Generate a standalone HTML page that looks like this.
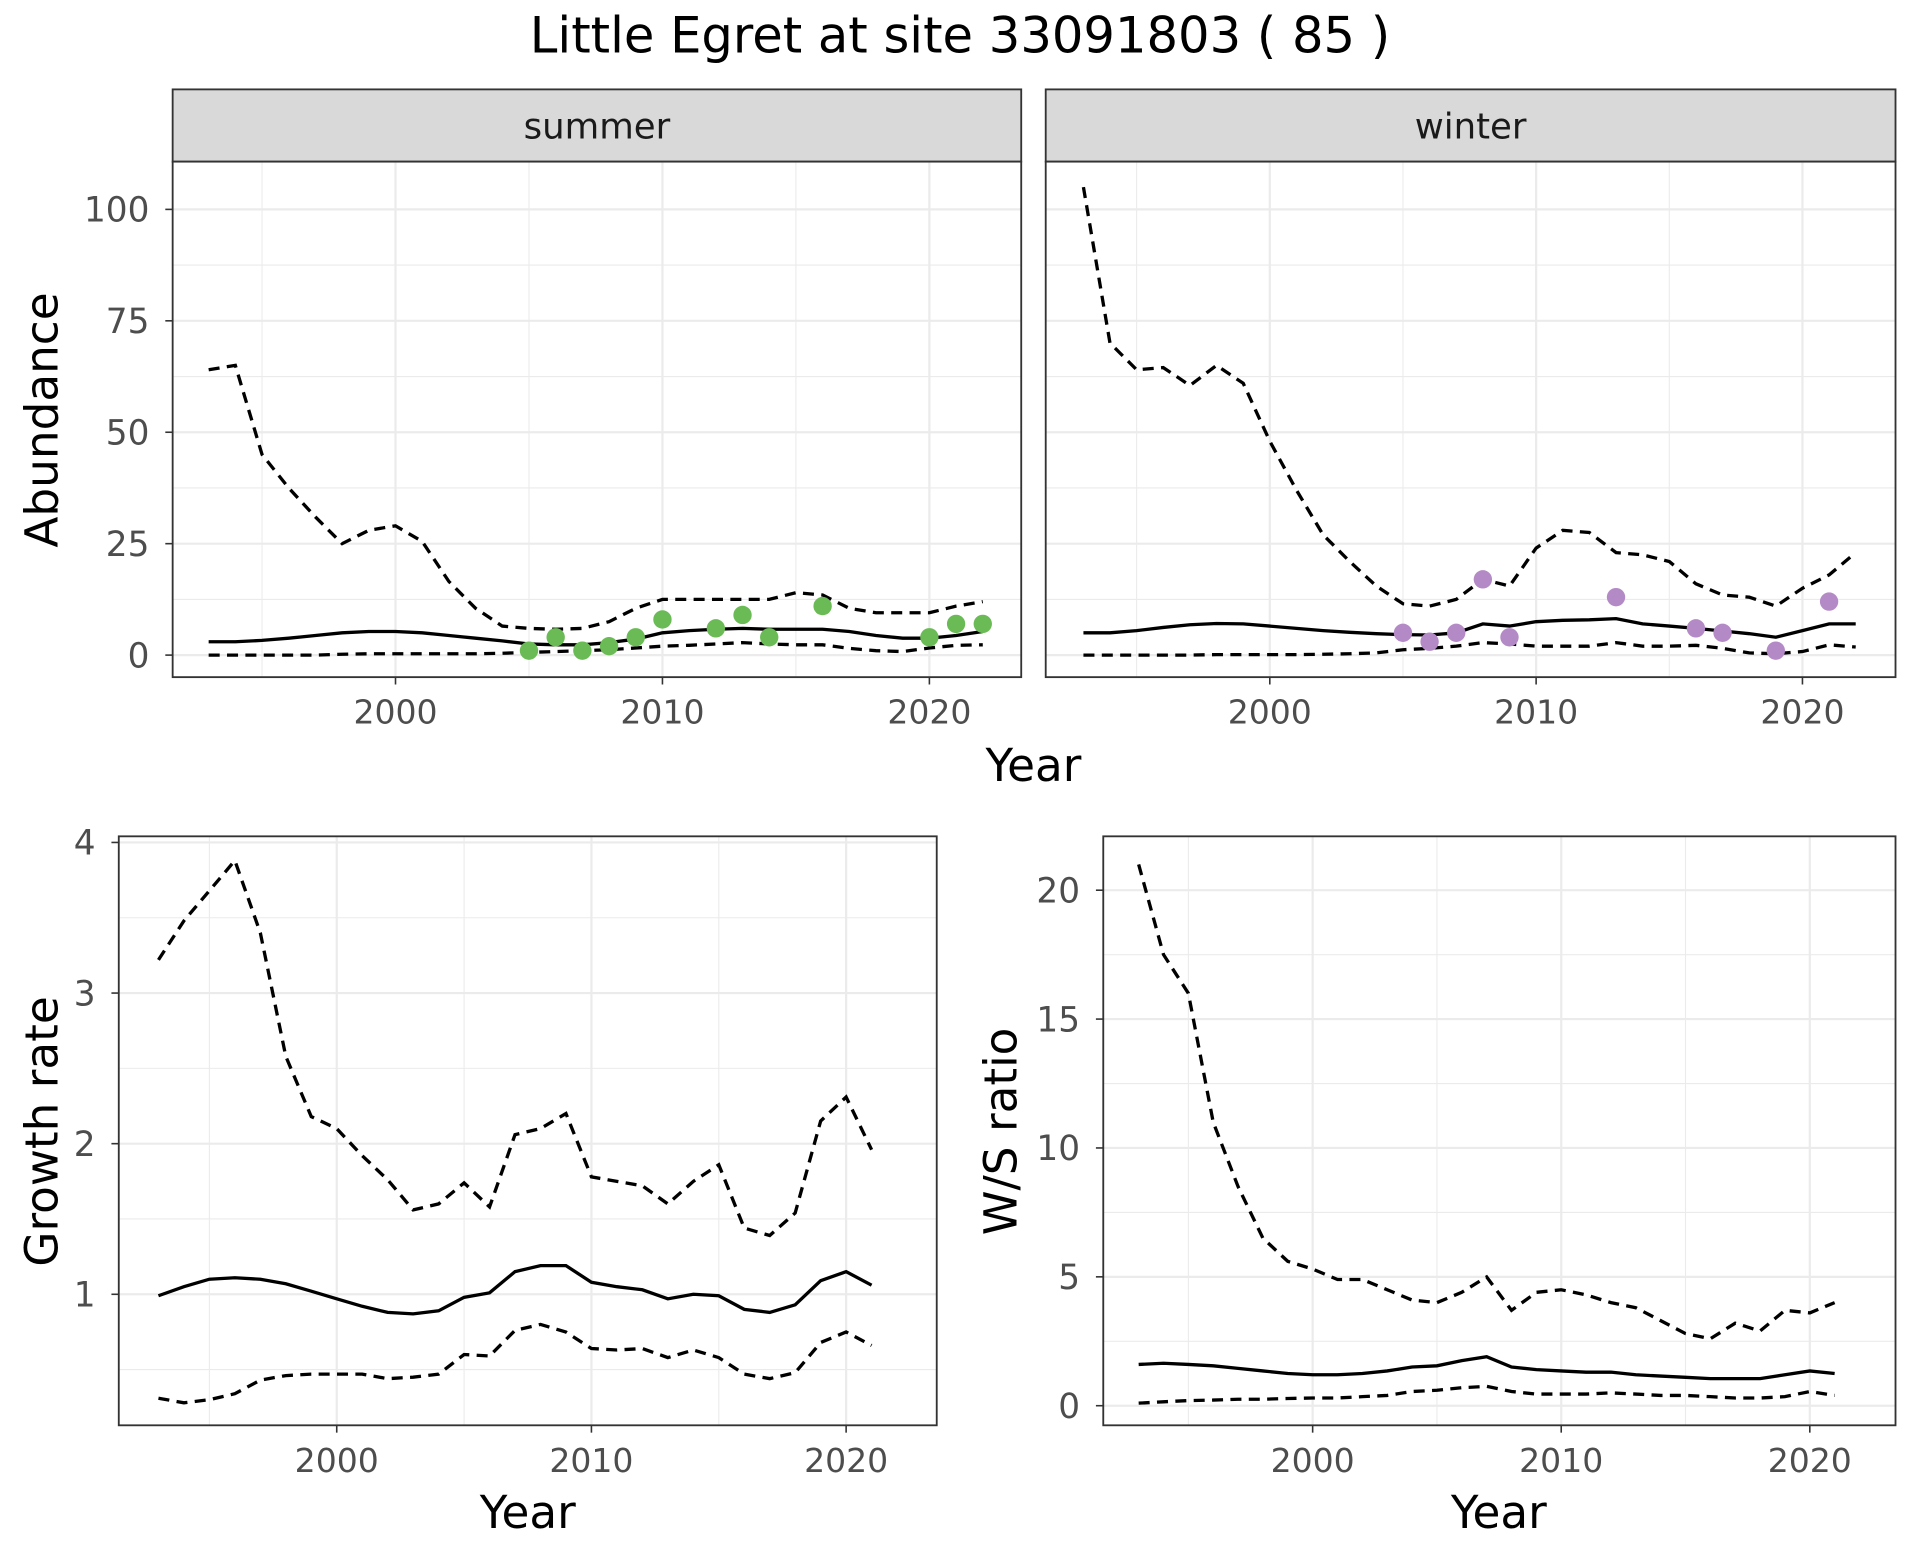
<!DOCTYPE html>
<html><head><meta charset="utf-8"><style>
html,body{margin:0;padding:0;background:#fff}
svg{display:block}
text{font-family:"DejaVu Sans","Liberation Sans",sans-serif}
</style></head><body>
<svg id="s" width="1920" height="1560" viewBox="0 0 1568 1274" preserveAspectRatio="none" xmlns="http://www.w3.org/2000/svg">
<rect width="1568" height="1274" fill="#fff"/>
<text x="784" y="43" font-size="40.5" text-anchor="middle" fill="#000">Little Egret at site 33091803 ( 85 )</text>
<g id="g"></g>
</svg>
<script>
var G=document.getElementById('g'),h='';
function line(pts,dash,w){return '<polyline fill="none" stroke="#000" stroke-width="'+(w||2.7)+'" '+(dash?'stroke-dasharray="9,6" ':'')+'points="'+pts.map(p=>p[0].toFixed(1)+','+p[1].toFixed(1)).join(' ')+'"/>';}
function panel(o){
 var X=y=>o.x0+(y-2000)*o.sx, Y=v=>o.y0-(v-o.v0)*o.sy;
 var s='<rect x="'+o.L+'" y="'+o.T+'" width="'+(o.R-o.L)+'" height="'+(o.B-o.T)+'" fill="#fff"/>';
 o.xminor.forEach(v=>{s+='<line x1="'+X(v)+'" x2="'+X(v)+'" y1="'+o.T+'" y2="'+o.B+'" stroke="#ebebeb" stroke-width="0.9"/>'});
 o.yminor.forEach(v=>{s+='<line y1="'+Y(v)+'" y2="'+Y(v)+'" x1="'+o.L+'" x2="'+o.R+'" stroke="#ebebeb" stroke-width="0.9"/>'});
 [2000,2010,2020].forEach(v=>{s+='<line x1="'+X(v)+'" x2="'+X(v)+'" y1="'+o.T+'" y2="'+o.B+'" stroke="#ebebeb" stroke-width="1.8"/>';
  s+='<line x1="'+X(v)+'" x2="'+X(v)+'" y1="'+o.B+'" y2="'+(o.B+6)+'" stroke="#333" stroke-width="1.3"/>';
  s+='<text x="'+X(v)+'" y="'+(o.B+38)+'" font-size="27" fill="#4d4d4d" text-anchor="middle">'+v+'</text>'});
 o.ymajor.forEach(v=>{s+='<line y1="'+Y(v)+'" y2="'+Y(v)+'" x1="'+o.L+'" x2="'+o.R+'" stroke="#ebebeb" stroke-width="1.8"/>';
  if(o.ylab){s+='<line y1="'+Y(v)+'" y2="'+Y(v)+'" x1="'+(o.L-6)+'" x2="'+o.L+'" stroke="#333" stroke-width="1.3"/>';
  s+='<text x="'+(o.L-19)+'" y="'+(Y(v)+10)+'" font-size="28" fill="#4d4d4d" text-anchor="end">'+v+'</text>';}});
 function ser(a,d,st){return line(a.map((v,i)=>[X(st+i),Y(v)]),d);}
 s+=ser(o.up,1,o.st)+ser(o.lo,1,o.st)+ser(o.mn,0,o.st);
 (o.pts||[]).forEach(p=>{s+='<circle cx="'+X(p[0])+'" cy="'+Y(p[1])+'" r="7.5" fill="'+o.col+'"/>'});
 s+='<rect x="'+o.L+'" y="'+o.T+'" width="'+(o.R-o.L)+'" height="'+(o.B-o.T)+'" fill="none" stroke="#333" stroke-width="1.5"/>';
 return s;}
var sUfull=[64,65,45,37.5,31,25,28,29,25.5,16.5,10.5,6.5,6,5.8,6,7.5,10.5,12.5,12.5,12.5,12.5,12.5,14,13.5,10.5,9.5,9.5,9.5,11,12];
var sM=[3,3,3.3,3.8,4.4,5,5.3,5.3,5,4.4,3.8,3.2,2.5,2.3,2.3,2.8,3.6,5,5.5,5.8,6,5.8,5.8,5.8,5.3,4.4,3.8,3.8,4.4,5.3];
var sL=[0,0,0,0,0,0.2,0.3,0.3,0.3,0.3,0.3,0.4,0.6,0.8,1,1.2,1.6,2,2.2,2.5,2.8,2.5,2.3,2.3,1.5,1,0.8,1.6,2.2,2.3];
var wU=[105,70,64,64.5,60.5,65,61,48,37,27,21,15.5,11.5,11,12.5,17,15.5,24,28,27.5,23,22.5,21,16,13.5,13,11,15,18,23];
var wM=[5,5,5.5,6.2,6.8,7.1,7,6.5,6,5.5,5.1,4.8,4.6,4.5,5,7,6.5,7.5,7.8,7.9,8.2,7,6.5,6,5.4,4.8,4,5.5,7,7];
var wL=[0,0,0,0,0,0.1,0.1,0.1,0.1,0.2,0.3,0.5,1.2,1.5,2,2.8,2.5,2,2,2,2.8,2,2,2.2,1.5,0.5,0.3,0.8,2.3,1.8];
h+='<rect x="141" y="73" width="693" height="59" fill="#d9d9d9" stroke="#333" stroke-width="1.5"/><text x="487.5" y="113" font-size="29" text-anchor="middle" fill="#1a1a1a">summer</text>';
h+='<rect x="854" y="73" width="694" height="59" fill="#d9d9d9" stroke="#333" stroke-width="1.5"/><text x="1201" y="113" font-size="29" text-anchor="middle" fill="#1a1a1a">winter</text>';
var yt={xminor:[1995,2005,2015],yminor:[12.5,37.5,62.5,87.5],ymajor:[0,25,50,75,100],v0:0,y0:535,sy:3.64,T:132,B:553,st:1993};
h+=panel(Object.assign({},yt,{L:141,R:834,x0:323,sx:21.8,ylab:1,up:sUfull,mn:sM,lo:sL,col:'#6abb55',pts:[[2005,1],[2006,4],[2007,1],[2008,2],[2009,4],[2010,8],[2012,6],[2013,9],[2014,4],[2016,11],[2020,4],[2021,7],[2022,7]]}));
h+=panel(Object.assign({},yt,{L:854,R:1548,x0:1037,sx:21.75,ylab:0,up:wU,mn:wM,lo:wL,col:'#b48ac6',pts:[[2005,5],[2006,3],[2007,5],[2008,17],[2009,4],[2013,13],[2016,6],[2017,5],[2019,1],[2021,12]]}));
h+='<text x="844" y="638" font-size="37" text-anchor="middle">Year</text>';
h+='<text transform="translate(47,343) rotate(-90)" font-size="37" text-anchor="middle">Abundance</text>';
var gU=[3.22,3.48,3.68,3.88,3.4,2.58,2.18,2.1,1.92,1.76,1.56,1.6,1.74,1.58,2.06,2.1,2.2,1.78,1.75,1.72,1.6,1.75,1.86,1.44,1.39,1.54,2.15,2.31,1.96];
var gM=[0.99,1.05,1.10,1.11,1.10,1.07,1.02,0.97,0.92,0.88,0.87,0.89,0.98,1.01,1.15,1.19,1.19,1.08,1.05,1.03,0.97,1.00,0.99,0.90,0.88,0.93,1.09,1.15,1.06];
var gL=[0.31,0.28,0.30,0.34,0.43,0.46,0.47,0.47,0.47,0.44,0.45,0.47,0.6,0.59,0.76,0.8,0.75,0.64,0.63,0.64,0.58,0.63,0.58,0.47,0.44,0.48,0.68,0.75,0.66];
h+=panel({L:97,R:765,T:683,B:1164,x0:275,sx:20.8,v0:1,y0:1057,sy:123,st:1993,xminor:[1995,2005,2015],yminor:[0.5,1.5,2.5,3.5],ymajor:[1,2,3,4],ylab:1,up:gU,mn:gM,lo:gL});
var rU=[21,17.5,16,11,8.5,6.5,5.6,5.3,4.9,4.9,4.5,4.1,4,4.4,5,3.7,4.4,4.5,4.3,4,3.8,3.3,2.8,2.6,3.2,2.9,3.7,3.6,4];
var rM=[1.6,1.65,1.6,1.55,1.45,1.35,1.25,1.2,1.2,1.25,1.35,1.5,1.55,1.75,1.9,1.5,1.4,1.35,1.3,1.3,1.2,1.15,1.1,1.05,1.05,1.05,1.2,1.35,1.25];
var rL=[0.1,0.15,0.2,0.22,0.25,0.25,0.28,0.3,0.3,0.35,0.4,0.55,0.6,0.7,0.75,0.55,0.45,0.45,0.45,0.5,0.45,0.4,0.4,0.35,0.3,0.3,0.35,0.55,0.4];
h+=panel({L:901,R:1548,T:683,B:1164,x0:1072,sx:20.3,v0:0,y0:1148,sy:21.05,st:1993,xminor:[1995,2005,2015],yminor:[2.5,7.5,12.5,17.5],ymajor:[0,5,10,15,20],ylab:1,up:rU,mn:rM,lo:rL});
h+='<text x="431" y="1248" font-size="37" text-anchor="middle">Year</text>';
h+='<text x="1224" y="1248" font-size="37" text-anchor="middle">Year</text>';
h+='<text transform="translate(47,924) rotate(-90)" font-size="37" text-anchor="middle">Growth rate</text>';
h+='<text transform="translate(830,924) rotate(-90)" font-size="37" text-anchor="middle">W/S ratio</text>';
G.innerHTML=h;
</script>
</body></html>
